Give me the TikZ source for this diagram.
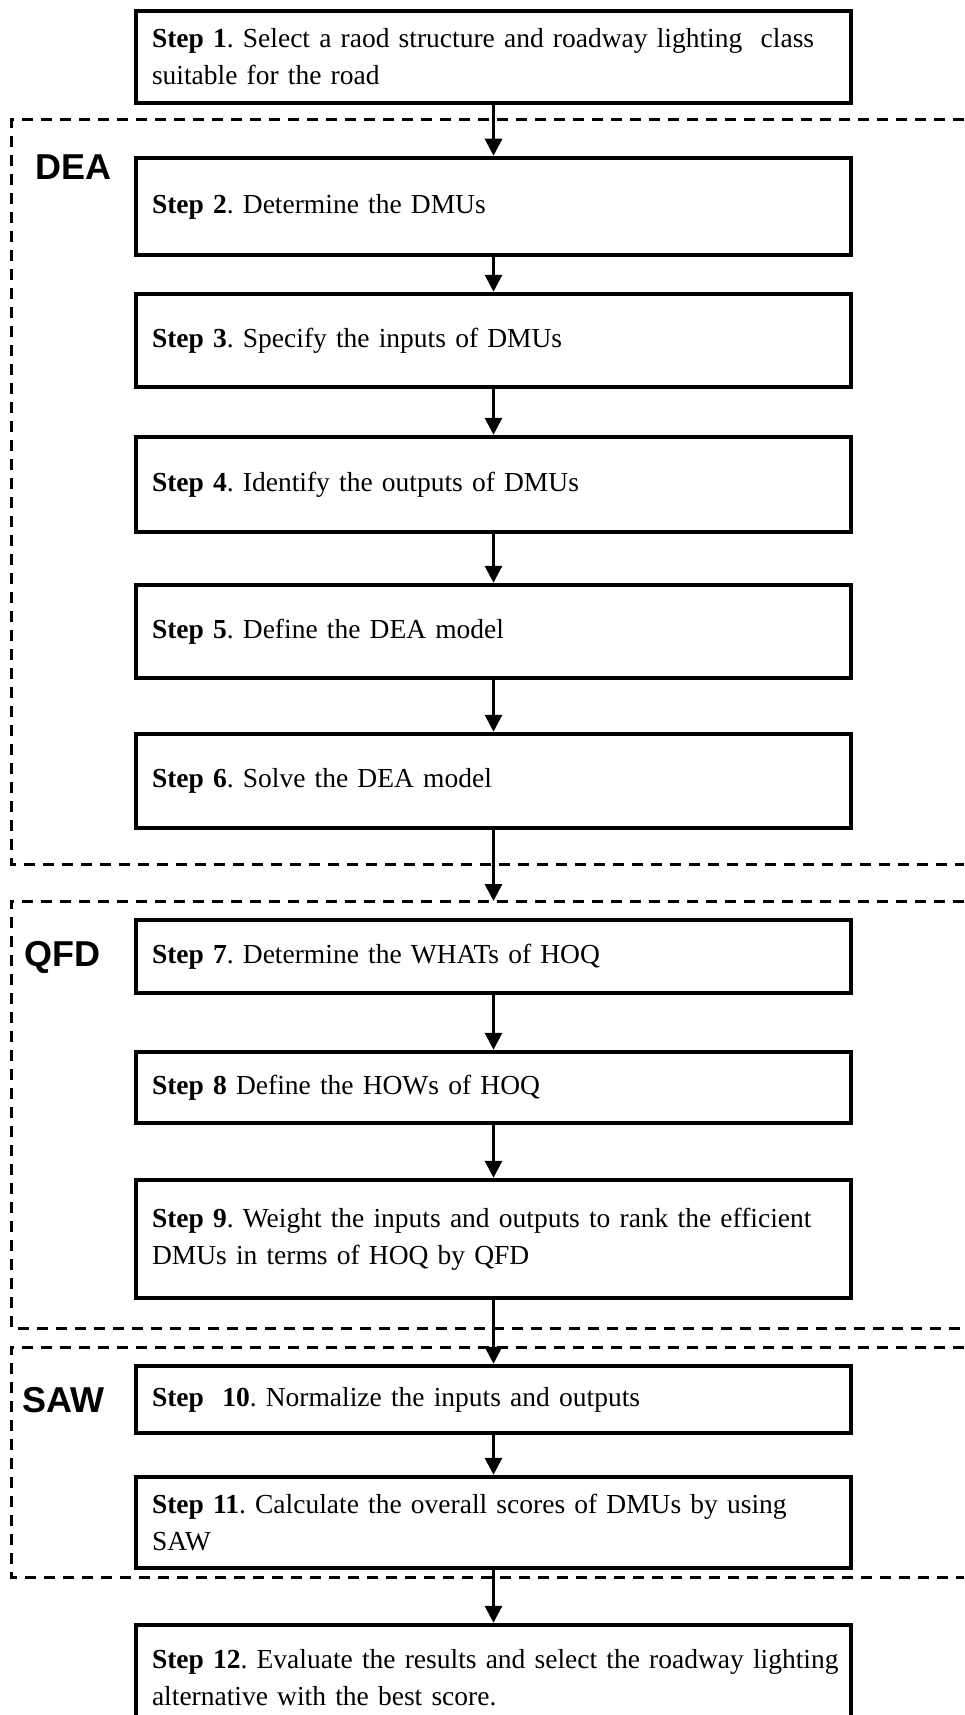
\documentclass[tikz,border=0pt]{standalone}
\usepackage{fontspec}
\setmainfont{Liberation Serif}
\newfontfamily\grpfont{Liberation Sans}
\usetikzlibrary{arrows.meta}
\frenchspacing
\tikzset{
  stepbox/.style={draw=black, line width=4.5pt, rectangle, minimum width=715pt,
    text width=683pt, align=left, inner xsep=16pt, inner ysep=0pt,
    font=\frenchspacing\fontsize{27.5}{37}\selectfont},
  grplabel/.style={anchor=west, inner sep=0pt, font=\grpfont\bfseries\fontsize{36}{40}\selectfont},
  frame/.style={draw=black, line width=3pt, dash pattern=on 11pt off 8pt},
  arr/.style={draw=black, line width=3pt, -{Triangle[width=17pt,length=17pt]}}
}
\begin{document}
\begin{tikzpicture}[x=1pt,y=-1pt]
\useasboundingbox (0,0) rectangle (964,1715);
% group frames (open to the right)
\draw[frame] (964,120) -- (11,120) -- (11,864) -- (964,864);
\draw[frame] (964,901) -- (11,901) -- (11,1328) -- (964,1328);
\draw[frame] (964,1347) -- (11,1347) -- (11,1577) -- (964,1577);
\coordinate (qtop) at (493.5,901);
% labels
\node[grplabel] (dea) at (35,167) {DEA};
\node[grplabel] (qfd) at (24,957) {QFD};
\node[grplabel] (saw) at (22,1400) {SAW};
% steps
\node[stepbox, minimum height=92pt] (s1) at (493.5,57) {\mbox{\textbf{Step 1}. Select a raod structure and roadway lighting\ \ class}\\suitable\ for the road};
\node[stepbox, minimum height=97pt] (s2) at (493.5,206.5) {\textbf{Step 2}. Determine\ the DMUs};
\node[stepbox, minimum height=93pt] (s3) at (493.5,340.5) {\textbf{Step 3}. Specify the inputs of DMUs};
\node[stepbox, minimum height=95pt] (s4) at (493.5,484.5) {\textbf{Step 4}. Identify\ the outputs of DMUs};
\node[stepbox, minimum height=93pt] (s5) at (493.5,631.5) {\textbf{Step 5}. Define\ the DEA model};
\node[stepbox, minimum height=94pt] (s6) at (493.5,781) {\textbf{Step 6}. Solve the DEA model};
\node[stepbox, minimum height=73pt] (s7) at (493.5,956.5) {\textbf{Step 7}. Determine\ the WHATs of\ HOQ};
\node[stepbox, minimum height=71pt] (s8) at (493.5,1087.5) {\textbf{Step 8} Define\ the HOWs of\ HOQ};
\node[stepbox, minimum height=118pt] (s9) at (493.5,1239) {\mbox{\textbf{Step 9}. Weight\ the inputs and outputs to rank the efficient}\\DMUs in terms of\ HOQ by QFD};
\node[stepbox, minimum height=67pt] (s10) at (493.5,1399.5) {\textbf{Step\ \ 10}. Normalize\ the inputs and outputs};
\node[stepbox, minimum height=91pt] (s11) at (493.5,1522.5) {\mbox{\textbf{Step 11}. Calculate\ the overall\ scores of DMUs\ by using}\\SAW};
\node[stepbox, minimum height=105pt] (s12) at (493.5,1677.5) {\mbox{\textbf{Step 12}. Evaluate\ the results and select the roadway lighting}\\\mbox{alternative\ with\ the best score.}};
% connectors
\draw[arr] (s1) -- (s2);
\draw[arr] (s2) -- (s3);
\draw[arr] (s3) -- (s4);
\draw[arr] (s4) -- (s5);
\draw[arr] (s5) -- (s6);
\draw[arr] (s6) -- (qtop);
\draw[arr] (s7) -- (s8);
\draw[arr] (s8) -- (s9);
\draw[arr] (s9) -- (s10);
\draw[arr] (s10) -- (s11);
\draw[arr] (s11) -- (s12);
\end{tikzpicture}
\end{document}
